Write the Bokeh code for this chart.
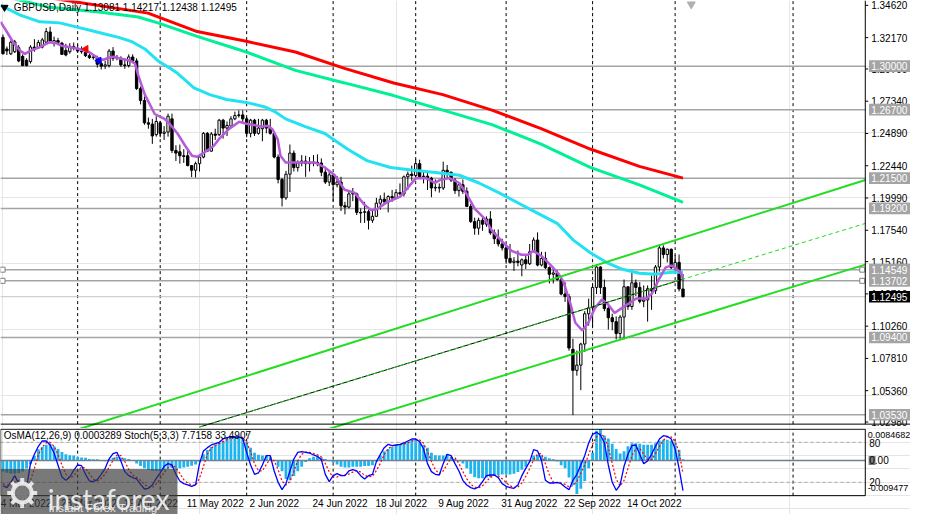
import math
from bokeh.plotting import figure
from bokeh.models import Range1d
from bokeh.core.properties import value
from bokeh.layouts import column
from bokeh.embed import file_html
from bokeh.resources import INLINE

FONT = "Liberation Sans"

# ---------------- data (GBPUSD daily, bar index 0 = 7 Mar 2022) ----------------
open_ = [
    1.3219,1.3131,1.3094,1.3110,1.3140,1.3075,1.3045,1.3035,1.3145,1.3140,
    1.3145,1.3182,1.3260,1.3175,1.3195,1.3175,1.3120,1.3110,1.3150,1.3135,
    1.3115,1.3105,1.3080,1.3065,1.3065,1.3020,1.3000,1.3005,1.3115,1.3060,
    1.3060,1.3010,1.3005,1.3070,1.3040,1.2830,1.2740,1.2570,1.2560,1.2480,
    1.2570,1.2490,1.2500,1.2600,1.2360,1.2350,1.2320,1.2320,1.2245,1.2210,
    1.2260,1.2310,1.2490,1.2355,1.2485,1.2480,1.2590,1.2530,1.2545,1.2600,
    1.2625,1.2630,1.2600,1.2490,1.2590,1.2490,1.2525,1.2590,1.2530,1.2490,
    1.2310,1.2140,1.2000,1.2180,1.2340,1.2230,1.2265,1.2280,1.2260,1.2270,
    1.2265,1.2265,1.2195,1.2120,1.2175,1.2100,1.2120,1.1940,1.1930,1.2030,
    1.2030,1.1890,1.1890,1.1895,1.1830,1.1860,1.1960,1.1990,1.1970,1.2010,
    1.2000,1.2040,1.2030,1.2160,1.2180,1.2170,1.2260,1.2160,1.2165,1.2150,
    1.2075,1.2080,1.2075,1.2210,1.2195,1.2135,1.2055,1.2100,1.2050,1.1935,
    1.1820,1.1770,1.1830,1.1800,1.1840,1.1735,1.1690,1.1650,1.1620,1.1540,
    1.1510,1.1520,1.1490,1.1530,1.1500,1.1590,1.1680,1.1490,1.1540,1.1470,
    1.1420,1.1430,1.1380,1.1270,1.1250,1.0850,1.0690,1.0730,1.0890,1.1120,
    1.1165,1.1320,1.1475,1.1320,1.1160,1.1090,1.1060,1.0970,1.1095,1.1325,
    1.1175,1.1355,1.1320,1.1215,1.1225,1.1310,1.1295,1.1475,1.1620,1.1570,
    1.1610,1.1470,1.1510,1.13081]
high = [
    1.3241,1.3150,1.3195,1.3200,1.3160,1.3090,1.3060,1.3160,1.3205,1.3200,
    1.3215,1.3290,1.3300,1.3225,1.3215,1.3185,1.3170,1.3175,1.3180,1.3165,
    1.3150,1.3130,1.3100,1.3090,1.3080,1.3050,1.3040,1.3130,1.3145,1.3085,
    1.3075,1.3060,1.3090,1.3090,1.3060,1.2845,1.2770,1.2610,1.2600,1.2620,
    1.2585,1.2545,1.2640,1.2640,1.2400,1.2405,1.2370,1.2360,1.2250,1.2275,
    1.2320,1.2500,1.2500,1.2500,1.2525,1.2600,1.2600,1.2580,1.2620,1.2655,
    1.2665,1.2665,1.2615,1.2600,1.2600,1.2600,1.2600,1.2600,1.2600,1.2500,
    1.2330,1.2150,1.2205,1.2405,1.2360,1.2285,1.2325,1.2320,1.2310,1.2325,
    1.2330,1.2300,1.2230,1.2200,1.2180,1.2165,1.2160,1.1970,1.2060,1.2075,
    1.2040,1.1920,1.1970,1.1910,1.1900,1.2000,1.2020,1.2040,1.2020,1.2060,
    1.2065,1.2110,1.2170,1.2200,1.2245,1.2295,1.2290,1.2210,1.2200,1.2160,
    1.2140,1.2110,1.2275,1.2250,1.2200,1.2150,1.2110,1.2140,1.2080,1.1955,
    1.1850,1.1850,1.1850,1.1860,1.1900,1.1760,1.1760,1.1690,1.1640,1.1650,
    1.1550,1.1600,1.1540,1.1560,1.1650,1.1700,1.1738,1.1590,1.1590,1.1480,
    1.1460,1.1450,1.1400,1.1360,1.1270,1.0930,1.0840,1.0900,1.1140,1.1235,
    1.1345,1.1495,1.1480,1.1380,1.1180,1.1120,1.1100,1.1110,1.1380,1.1325,
    1.1440,1.1380,1.1360,1.1335,1.1335,1.1410,1.1490,1.1645,1.1640,1.1615,
    1.1615,1.1565,1.1570,1.14217]
low = [
    1.3090,1.3085,1.3085,1.3100,1.3030,1.3000,1.2998,1.3020,1.3110,1.3130,
    1.3135,1.3170,1.3175,1.3150,1.3160,1.3085,1.3075,1.3095,1.3120,1.3100,
    1.3095,1.3070,1.3055,1.3050,1.2990,1.2975,1.2978,1.2990,1.3040,1.3045,
    1.2995,1.2980,1.2990,1.3025,1.2820,1.2710,1.2555,1.2525,1.2410,1.2465,
    1.2460,1.2440,1.2465,1.2340,1.2280,1.2260,1.2265,1.2240,1.2158,1.2155,
    1.2200,1.2300,1.2350,1.2350,1.2440,1.2470,1.2450,1.2470,1.2530,1.2590,
    1.2610,1.2575,1.2460,1.2460,1.2470,1.2480,1.2430,1.2490,1.2480,1.2300,
    1.2110,1.1935,1.1985,1.2045,1.2200,1.2200,1.2240,1.2160,1.2200,1.2240,
    1.2240,1.2165,1.2105,1.2090,1.1975,1.2080,1.1900,1.1875,1.1920,1.1975,
    1.1870,1.1810,1.1810,1.1760,1.1810,1.1860,1.1910,1.1950,1.1890,1.1970,
    1.1990,1.2020,1.2010,1.2060,1.2130,1.2150,1.2150,1.2110,1.2060,1.2005,
    1.2050,1.2040,1.2060,1.2150,1.2120,1.2030,1.2010,1.2030,1.1930,1.1810,
    1.1720,1.1720,1.1750,1.1780,1.1720,1.1650,1.1630,1.1600,1.1500,1.1500,
    1.1445,1.1480,1.1405,1.1460,1.1490,1.1590,1.1480,1.1480,1.1460,1.1350,
    1.1350,1.1370,1.1260,1.1210,1.0840,1.0350,1.0650,1.0540,1.0830,1.1030,
    1.1025,1.1270,1.1270,1.1140,1.1000,1.0995,1.0925,1.0930,1.0925,1.1150,
    1.1150,1.1255,1.1200,1.1170,1.1060,1.1150,1.1270,1.1440,1.1540,1.1510,
    1.1460,1.1445,1.1290,1.12438]
close_ = [
    1.3094,1.3116,1.3182,1.3185,1.3040,1.3005,1.3005,1.3145,1.3125,1.3180,
    1.3200,1.3263,1.3190,1.3195,1.3180,1.3090,1.3085,1.3150,1.3135,1.3115,
    1.3110,1.3080,1.3065,1.3070,1.3015,1.3000,1.3010,1.3115,1.3060,1.3065,
    1.3010,1.3005,1.3070,1.3040,1.2830,1.2740,1.2570,1.2560,1.2470,1.2580,
    1.2490,1.2500,1.2620,1.2360,1.2340,1.2320,1.2315,1.2245,1.2210,1.2260,
    1.2310,1.2490,1.2355,1.2485,1.2475,1.2590,1.2530,1.2550,1.2600,1.2625,
    1.2630,1.2600,1.2490,1.2590,1.2490,1.2530,1.2590,1.2530,1.2490,1.2310,
    1.2140,1.2000,1.2180,1.2340,1.2230,1.2265,1.2280,1.2260,1.2270,1.2265,
    1.2270,1.2195,1.2120,1.2175,1.2100,1.2120,1.1940,1.1930,1.2030,1.2035,
    1.1890,1.1885,1.1895,1.1830,1.1860,1.1960,1.1990,1.1970,1.2010,1.2000,
    1.2040,1.2030,1.2160,1.2180,1.2170,1.2260,1.2160,1.2165,1.2150,1.2075,
    1.2080,1.2075,1.2210,1.2195,1.2135,1.2055,1.2100,1.2050,1.1935,1.1820,
    1.1770,1.1830,1.1800,1.1840,1.1735,1.1690,1.1650,1.1620,1.1540,1.1510,
    1.1520,1.1510,1.1530,1.1500,1.1590,1.1680,1.1490,1.1540,1.1470,1.1420,
    1.1430,1.1380,1.1270,1.1250,1.0860,1.0690,1.0730,1.0890,1.1120,1.1165,
    1.1320,1.1475,1.1320,1.1160,1.1090,1.1060,1.0970,1.1095,1.1325,1.1175,
    1.1355,1.1320,1.1215,1.1225,1.1310,1.1295,1.1475,1.1620,1.1570,1.1610,
    1.1470,1.1510,1.13081,1.12495]

# moving averages (bar index, price)
purple_i = [-0.6,1.1,2.6,4.4,5.6,6.9,9.4,11.9,13.6,15.1,16.9,19.4,21.9,24.4,25.6,26.9,28.1,30.1,32.4,33.6,
            34.4,36.1,38.6,41.1,42.6,44.4,46.4,48.1,49.4,51.1,53.6,55.1,57.6,60.1,61.9,63.6,65.6,67.4,68.6,69.9,
            70.6,71.9,75.1,79.4,81.9,84.4,86.9,89.4,91.9,93.6,95.1,97.6,101.1,103.6,105.1,107.6,109.9,111.1,113.6,116.1,
            117.6,120.1,122.6,124.4,126.9,129.4,131.9,133.6,134.9,136.9,139.4,141.4,142.6,144.4,145.6,147.4,148.9,150.6,152.4,153.9,
            155.6,157.4,158.9,161.1,163.6,165.1,166.9,168.6,170.1,172.4,173.0]
purple_v = [1.3337,1.3256,1.3182,1.3116,1.3094,1.3116,1.3145,1.3182,1.3175,1.3153,1.3145,1.3131,1.3108,1.3057,1.3049,1.3064,1.3072,1.3057,1.3042,1.3020,
            1.2932,1.2784,1.2637,1.2600,1.2556,1.2489,1.2394,1.2320,1.2312,1.2342,1.2394,1.2452,1.2526,1.2578,1.2563,1.2556,1.2541,1.2548,1.2519,1.2445,
            1.2320,1.2268,1.2268,1.2268,1.2231,1.2172,1.2062,1.2040,1.1951,1.1907,1.1914,1.1966,1.2010,1.2099,1.2150,1.2150,1.2113,1.2135,1.2150,1.2113,
            1.2047,1.1914,1.1840,1.1752,1.1671,1.1598,1.1568,1.1568,1.1598,1.1561,1.1487,1.1421,1.1362,1.1192,1.1052,1.0993,1.1052,1.1163,1.1229,1.1192,
            1.1126,1.1163,1.1192,1.1236,1.1236,1.1273,1.1384,1.1472,1.1487,1.1435,1.1384]
cyan_i = [-0.6,4.4,9.4,14.4,19.4,24.4,29.4,32.6,36.1,39.4,42.6,44.4,48.6,52.6,56.9,61.9,66.9,69.4,71.9,76.9,
          81.9,87.6,92.6,98.6,104.4,109.4,116.1,121.1,126.1,129.4,135.0,141.1,145.1,149.4,153.6,157.6,161.9,166.1,170.1,173.0]
cyan_v = [1.3462,1.3388,1.3337,1.3329,1.3293,1.3256,1.3219,1.3189,1.3131,1.3042,1.2983,1.2946,1.2836,1.2784,1.2747,1.2725,1.2688,1.2651,1.2600,1.2541,
          1.2489,1.2371,1.2283,1.2231,1.2209,1.2195,1.2172,1.2113,1.2040,1.1988,1.1900,1.1804,1.1679,1.1583,1.1509,1.1458,1.1428,1.1421,1.1435,1.1435]
green_i = [-0.6,11.9,24.4,34.4,39.4,49.4,61.9,74.4,86.9,99.4,111.9,124.4,136.9,149.4,161.9,173.0]
green_v = [1.3536,1.3447,1.3411,1.3374,1.3329,1.3226,1.3108,1.2968,1.2873,1.2777,1.2666,1.2556,1.2409,1.2232,1.2099,1.1966]
red_i = [6.6,36.9,49.4,61.9,74.4,86.9,99.4,111.9,124.4,136.9,149.4,161.9,173.0]
red_v = [1.3543,1.3403,1.3263,1.3189,1.3108,1.2983,1.2872,1.2784,1.2666,1.2526,1.2371,1.2239,1.2150]

# channel lines (anchor points: bar index, price), ending at the price scale
upper_ch_i = [0, 219.375]
upper_ch_v = [1.0061, 1.2136]
lower_ch_i = [80, 219.375]
lower_ch_v = [1.0219, 1.1493]
mid_solid_i = [50, 173.1]
mid_solid_v = [1.0260, 1.1384]
mid_dash_i = [50, 219.375]
mid_dash_v = [1.0260, 1.1806]

levels = [1.30000, 1.26700, 1.21500, 1.19200, 1.14549, 1.13702, 1.09400, 1.03530]
bid = 1.12495
price_ticks = [1.34620, 1.32170, 1.29790, 1.27340, 1.24890, 1.22440, 1.19990,
               1.17540, 1.15160, 1.12710, 1.10260, 1.07810, 1.05360, 1.02980]
month_idx = [19, 40, 62, 84, 105, 128, 150, 171, 201]
date_idx = [-1, 15, 31, 47, 63, 79, 95, 111, 127, 143, 159]
date_txt = ["4 Mar 2022", "28 Mar 2022", "19 Apr 2022", "11 May 2022", "2 Jun 2022", "24 Jun 2022",
            "18 Jul 2022", "9 Aug 2022", "31 Aug 2022", "22 Sep 2022", "14 Oct 2022"]

# OsMA(12,26,9) in units of 1e-4
osma_e4 = [
    -30,-33,-35,-36,-34,-30,-22,-10,12,30,
    36,42,45,38,31,23,17,14,13,10,
    8,7,4,3,3,1,-2,3,7,10,
    8,6,4,-1,-8,-15,-21,-25,-28,-28,
    -28,-26,-24,-21,-24,-21,-19,-17,-14,-11,
    -4,17,28,36,42,48,53,59,63,65,
    63,59,51,34,21,15,13,13,10,0,
    -17,-29,-50,-53,-42,-29,-17,-4,6,10,
    10,8,4,-2,-6,-11,-17,-19,-19,-17,
    -17,-17,-15,-15,-13,-3,13,25,31,36,
    40,42,46,51,55,55,48,42,34,21,
    14,13,13,17,10,4,-2,-8,-21,-36,
    -45,-48,-48,-46,-45,-42,-40,-38,-38,-38,
    -36,-31,-25,-17,-3,13,15,13,10,6,
    3,-3,-13,-21,-46,-67,-90,-76,-55,-21,
    21,80,84.68,67,59,45,31,19,25,38,
    46,46,45,42,42,42,46,53,56,56,
    53,46,29,3.289]
stoch_main = [
    15,12,20,30,18,8,12,48,62,74,
    82,82,76,64,46,28,23,28,38,46,
    45,32,22,21,24,32,41,55,63,65,
    52,36,30,27,25,17,10,11,16,26,
    34,44,48,46,32,22,18,16,14,16,
    48,67,72,76,78,80,85,87,88,88,
    88,86,65,46,32,34,46,60,60,37,
    20,9,18,37,55,65,66,65,64,61,
    59,54,32,21,30,33,30,30,37,39,
    37,30,25,30,32,51,62,72,77,75,
    76,77,79,82,85,85,81,70,48,36,
    32,31,48,62,60,48,37,23,16,12,
    10,13,21,30,31,31,27,18,14,12,
    11,16,30,41,51,69,67,53,23,19,
    19,20,18,13,9,23,32,46,60,79,
    92,95,91,79,46,20,8,16,44,62,
    75,76,62,48,52,62,74,85,90,89,
    85,70,41,7.7158]
stoch_signal = [
    18,16,15.7,20.7,22.7,18.7,12.7,22.7,40.7,61.3,
    72.7,79.3,80,74,62,46,32.3,26.3,29.7,37.3,
    43,41,33,25,22.3,25.7,32.3,42.7,53,61,
    60,51,39.3,31,27.3,23,17.3,12.7,12.3,17.7,
    25.3,34.7,42,46,42,33.3,24,18.7,16,15.3,
    26,43.7,62.3,71.7,75.3,78,81,84,86.7,87.7,
    88,87.3,79.7,65.7,47.7,37.3,37.3,46.7,55.3,52.3,
    39,22,15.7,21.3,36.7,52.3,62,65.3,65,63.3,
    61.3,58,48.3,35.7,27.7,28,31,31,32.3,35.3,
    37.7,35.3,30.7,28.3,29,37.7,48.3,61.7,70.3,74.7,
    76,76,77.3,79.3,82,84,83.7,78.7,66.3,51.3,
    38.7,33,37,47,56.7,56.7,48.3,36,25.3,17,
    12.7,11.7,14.7,21.3,27.3,30.7,29.7,25.3,19.7,14.7,
    12.3,13,19,29,40.7,53.7,62.3,63,47.7,31.7,
    20.3,19.3,19,17,13.3,15,21.3,33.7,46,61.7,
    77,88.7,92.7,88.3,72,48.3,24.7,14.7,22.7,40.7,
    60.3,71,71,62,54,54,62.7,73.7,83,88,
    88,81.3,65.3,33.4907]
OSMA_MAX = 0.0084682
OSMA_MIN = -0.009477

# ---------------- layout constants ----------------
n = len(close_)
idx = list(range(n))
X0, X1, XR = -0.625, 219.375, 230.875      # left edge, price-scale line, right edge (bars)
PPX = 0.000737                               # price per reference pixel
Y1 = 1.34989
Y0 = Y1 - 441 * PPX
LBL = dict(text_font=value(FONT), text_font_size=value("10px"))

# ---------------- main price panel ----------------
p = figure(width=910, height=428, x_range=Range1d(X0, XR), y_range=Range1d(Y0, Y1),
           output_backend="svg", toolbar_location=None, x_axis_location=None,
           y_axis_location=None, min_border=0)
p.outline_line_color = None
p.background_fill_color = "white"
p.border_fill_color = "white"

BOTTOM_LINE = Y1 - 436.5 * PPX
p.segment(x0=month_idx, x1=month_idx, y0=[BOTTOM_LINE] * len(month_idx), y1=[Y1] * len(month_idx),
          line_color="black", line_dash="3 3", line_width=1)
p.segment(x0=[X0] * len(levels), x1=[X1] * len(levels), y0=levels, y1=levels,
          line_color="#a4a4a4", line_width=1.5)
p.segment(x0=[X0], x1=[X1], y0=[bid], y1=[bid], line_color="#c4c4c4", line_width=1)

up = [c >= o for o, c in zip(open_, close_)]
p.segment(x0=idx, y0=low, x1=idx, y1=high, line_color="black", line_width=1)
p.vbar(x=idx, top=[max(o, c) for o, c in zip(open_, close_)],
       bottom=[min(o, c) for o, c in zip(open_, close_)], width=0.6,
       fill_color=["white" if u else "black" for u in up], line_color="black", line_width=1)

p.line(red_i, red_v, line_color="#ff0000", line_width=3)
p.line(green_i, green_v, line_color="#00f096", line_width=3)
p.line(cyan_i, cyan_v, line_color="#22e2f2", line_width=3)
p.line(purple_i, purple_v, line_color="#b55ad8", line_width=2.5)

p.line(mid_solid_i, mid_solid_v, line_color="black", line_width=1)
p.line(mid_dash_i, mid_dash_v, line_color="#22dd22", line_width=1, line_dash="4 3")
p.line(upper_ch_i, upper_ch_v, line_color="#22dd22", line_width=2)
p.line(lower_ch_i, lower_ch_v, line_color="#22dd22", line_width=2)

# horizontal-line anchors
p.scatter([-0.1, -0.1, 218.6, 218.6], [levels[4], levels[5], levels[4], levels[5]],
          marker="square", size=5, fill_color="white", line_color="#808080")

# trade arrows & markers
p.scatter([21.1], [1.3131], marker="triangle", angle=math.pi / 2, size=7, color="#ff0000")
p.scatter([24.4], [1.3042], marker="triangle", angle=math.pi / 2, size=7, color="#0000ff")
p.scatter([0.4], [1.3447], marker="inverted_triangle", size=7, color="black")
p.scatter([175.1], [1.3470], marker="inverted_triangle", size=8, color="#b0b0b0")

p.text(x=[X0 + 3.4], y=[Y1 - 1.5 * PPX],
       text=["GBPUSD,Daily  1.13081 1.14217 1.12438 1.12495"],
       text_baseline="top", text_align="left", text_color="black", **LBL)

# price scale (drawn by hand so that level boxes can sit on it)
p.segment(x0=[X1], x1=[X1], y0=[BOTTOM_LINE], y1=[Y1], line_color="black", line_width=1)
p.segment(x0=[X0], x1=[XR], y0=[BOTTOM_LINE], y1=[BOTTOM_LINE], line_color="black", line_width=1)
p.segment(x0=[X1] * len(price_ticks), x1=[X1 + 0.75] * len(price_ticks),
          y0=price_ticks, y1=price_ticks, line_color="black", line_width=1)
p.text(x=[X1 + 1.5] * len(price_ticks), y=price_ticks,
       text=[f"{t:.5f}" for t in price_ticks],
       text_baseline="middle", text_align="left", text_color="black", **LBL)

hh = 6.0 * PPX
p.quad(left=[X1 + 0.95] * len(levels), right=[X1 + 11.4] * len(levels),
       bottom=[lv - hh for lv in levels], top=[lv + hh for lv in levels],
       fill_color="#a4a4a4", line_color=None)
p.quad(left=[X1 + 0.95], right=[X1 + 11.4], bottom=[bid - hh], top=[bid + hh],
       fill_color="black", line_color=None)
p.text(x=[X1 + 1.5] * len(levels), y=levels, text=[f"{lv:.5f}" for lv in levels],
       text_baseline="middle", text_align="left", text_color="white", **LBL)
p.text(x=[X1 + 1.5], y=[bid], text=[f"{bid:.5f}"],
       text_baseline="middle", text_align="left", text_color="white", **LBL)

# ---------------- indicator panel ----------------
SPX = 0.69                                   # reference pixels per stochastic unit
S_TOP = (510.5 - 441) / SPX
S_BOT = (510.5 - 530) / SPX
span_o = OSMA_MAX - OSMA_MIN
q = figure(width=910, height=86, x_range=p.x_range, y_range=Range1d(S_BOT, S_TOP),
           output_backend="svg", toolbar_location=None, x_axis_location=None,
           y_axis_location=None, min_border=0)
q.extra_y_ranges = {"osma": Range1d(OSMA_MIN + S_BOT / 100 * span_o, OSMA_MIN + S_TOP / 100 * span_o)}
q.outline_line_color = None
q.background_fill_color = "white"
q.border_fill_color = "white"

q.segment(x0=month_idx, x1=month_idx, y0=[0] * len(month_idx), y1=[100] * len(month_idx),
          line_color="black", line_dash="3 3", line_width=1)

osma = [v * 1e-4 for v in osma_e4]
q.vbar(x=idx, top=osma, bottom=0, width=0.72, fill_color="#1eb4ee", line_color=None,
       y_range_name="osma")
q.segment(x0=[X0], x1=[X1], y0=[0], y1=[0], line_color="#6f8091", line_width=1.5,
          y_range_name="osma")
q.segment(x0=[X0, X0], x1=[X1, X1], y0=[80, 20], y1=[80, 20],
          line_color="#a8a8a8", line_dash="3 3", line_width=1)
q.line(idx, stoch_signal, line_color="#ff0000", line_width=1.2, line_dash="2 2")
q.line(idx, stoch_main, line_color="#0000ff", line_width=1.3)

q.quad(left=[X0 + 0.05], right=[X1], bottom=[0], top=[99.6], fill_color=None,
       line_color="black", line_width=1)

q.text(x=[X0 + 0.8], y=[98.0],
       text=["OsMA(12,26,9) 0.0003289  Stoch(5,3,3) 7.7158 33.4907"],
       text_baseline="top", text_align="left", text_color="black", **LBL)

q.quad(left=[X1 + 0.85], right=[X1 + 2.6], bottom=[46.0], top=[59.5], fill_color="#7a7a7a",
       line_color=None)
q.text(x=[X1 + 1.0, X1 + 1.0, X1 + 1.0], y=[79.6, 52.8, 20.4], text=["80", "0.00", "20"],
       text_baseline="middle", text_align="left", text_color="black", **LBL)
q.text(x=[X1 + 0.6, X1 + 0.6], y=[91.5, 10.9], text=["0.0084682", "-0.009477"],
       text_baseline="middle", text_align="left", text_color="black",
       text_font=value(FONT), text_font_size=value("9px"))

# date scale (first label kept inside the left edge)
date_x = [max(d, X0 + 0.3) for d in date_idx]
q.text(x=date_x, y=[-12.3] * len(date_idx), text=date_txt, x_offset=-1,
       text_baseline="middle", text_align="left", text_color="black", **LBL)

# watermark logo
q.quad(left=[X0], right=[44.4], bottom=[S_BOT], top=[39.9], fill_color="#3a3a3a",
       fill_alpha=0.68, line_color=None)
q.scatter([4.9], [4.0], marker="asterisk", size=30, line_color="#eeeeee", line_width=4,
          line_alpha=0.9)
q.scatter([4.9], [4.0], marker="circle", size=19, fill_color="#6e6e6e", fill_alpha=0.9,
          line_color="#eeeeee", line_width=4, line_alpha=0.9)
q.text(x=[11.4], y=[-4.5], text=["instaforex"], text_baseline="alphabetic", text_align="left",
       text_color="#f4f4f4", text_alpha=0.92, text_font=value("Lato"),
       text_font_size=value("28px"))
q.text(x=[11.6], y=[-19.0], text=["Instant Forex Trading"], text_baseline="alphabetic",
       text_align="left", text_color="#eeeeee", text_alpha=0.95, text_font=value(FONT),
       text_font_size=value("11.5px"))

layout = column(p, q, spacing=0)
open("out.html", "w").write(file_html(layout, INLINE))
